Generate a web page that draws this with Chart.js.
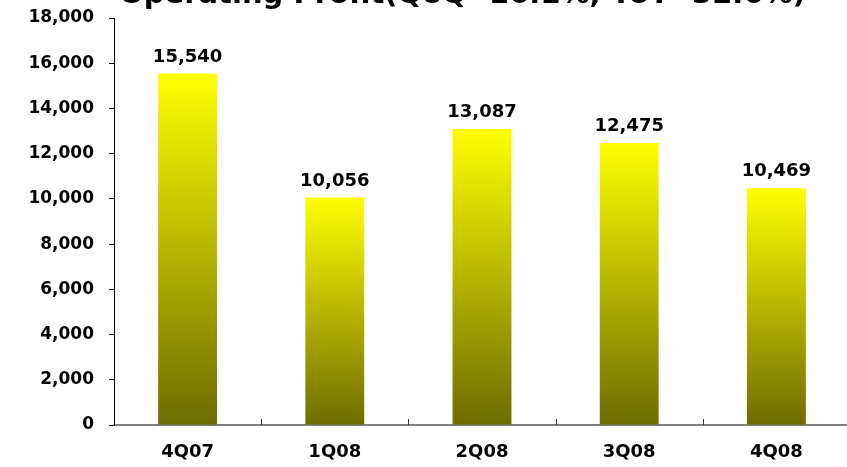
<!DOCTYPE html>
<html>
<head>
<meta charset="utf-8">
<script src="https://cdn.jsdelivr.net/npm/chart.js@4/dist/chart.umd.min.js"></script>
<style>
  body { margin: 0; background: #fff; overflow: hidden; }
  #wrap { position: relative; width: 850px; height: 467px; }
  #title {
    position: absolute; left: 0; width: 925px; top: -21px;
    text-align: center; font: bold 29px "DejaVu Sans", sans-serif;
    line-height: 29px; color: #000; white-space: nowrap;
  }
</style>
</head>
<body>
<div id="wrap">
  <canvas id="profitChart"></canvas>
  <div id="title">Operating Profit(QoQ -16.1%, YoY -32.6%)</div>
</div>
<script>
// dados do gráfico
const quarters = ['4Q07', '1Q08', '2Q08', '3Q08', '4Q08'];
const profit = [15540, 10056, 13087, 12475, 10469];
const yTicks = [0, 2000, 4000, 6000, 8000, 10000, 12000, 14000, 16000, 18000];

const fmt = v => v.toLocaleString('en-US');

// gradiente amarelo -> oliva em cada barra
function barGradient(c) {
  const chart = c.chart;
  if (!chart.chartArea || c.type !== 'data') return '#ffff00';
  const y = chart.scales.y;
  const top = y.getPixelForValue(c.raw);
  const bottom = y.getPixelForValue(0);
  const g = chart.ctx.createLinearGradient(0, top, 0, bottom);
  g.addColorStop(0, '#ffff00');
  g.addColorStop(1, '#6e6c00');
  return g;
}

// valores acima das barras
const valueLabels = {
  id: 'valueLabels',
  afterDatasetsDraw(chart) {
    const ctx = chart.ctx;
    ctx.save();
    ctx.font = 'bold 18px "DejaVu Sans", sans-serif';
    ctx.fillStyle = '#000';
    ctx.textAlign = 'center';
    ctx.textBaseline = 'alphabetic';
    chart.getDatasetMeta(0).data.forEach((bar, i) => {
      ctx.fillText(fmt(profit[i]), bar.x, bar.y - 12);
    });
    ctx.restore();
  }
};

// marcas entre categorias, para dentro
const catTicks = {
  id: 'catTicks',
  afterDraw(chart) {
    const x = chart.scales.x;
    const ctx = chart.ctx;
    ctx.save();
    ctx.strokeStyle = '#333';
    ctx.lineWidth = 1;
    ctx.beginPath();
    for (let i = 1; i < quarters.length; i++) {
      const px = Math.round((x.getPixelForTick(i - 1) + x.getPixelForTick(i)) / 2) + 0.5;
      ctx.moveTo(px, x.top);
      ctx.lineTo(px, x.top - 6);
    }
    ctx.stroke();
    ctx.restore();
  }
};

const ctx = document.getElementById('profitChart').getContext('2d');
const profitChart = new Chart(ctx, {
  type: 'bar',
  data: {
    labels: quarters,
    datasets: [{
      label: 'Operating Profit',
      data: profit,
      backgroundColor: barGradient,
      borderWidth: 0,
      categoryPercentage: 1,
      barPercentage: 0.4
    }]
  },
  options: {
    responsive: true,
    maintainAspectRatio: false,
    animation: false,
    layout: { padding: { top: 18, right: 0, bottom: 0, left: 0 } },
    plugins: {
      legend: { display: false },
      tooltip: { enabled: false }
    },
    scales: {
      x: {
        grid: { display: true, drawOnChartArea: false, drawTicks: false },
        border: { display: true, color: '#808080', width: 2 },
        ticks: {
          color: '#000',
          padding: 17,
          font: { family: 'DejaVu Sans', weight: 'bold', size: 18 }
        },
        afterFit: s => { s.height = 42; s.paddingLeft = 0; s.paddingRight = 0; }
      },
      y: {
        min: 0,
        max: 18000,
        afterBuildTicks: s => { s.ticks = yTicks.map(v => ({ value: v })); },
        grid: { drawOnChartArea: false, tickLength: 5, color: '#000' },
        border: { display: true, color: '#000', width: 1 },
        ticks: {
          color: '#000',
          padding: 15,
          callback: v => fmt(v),
          font: { family: 'DejaVu Sans', weight: 'bold', size: 17 }
        },
        afterFit: s => { s.width = 114; s.paddingTop = 0; s.paddingBottom = 0; }
      }
    }
  },
  plugins: [valueLabels, catTicks]
});
</script>
</body>
</html>
